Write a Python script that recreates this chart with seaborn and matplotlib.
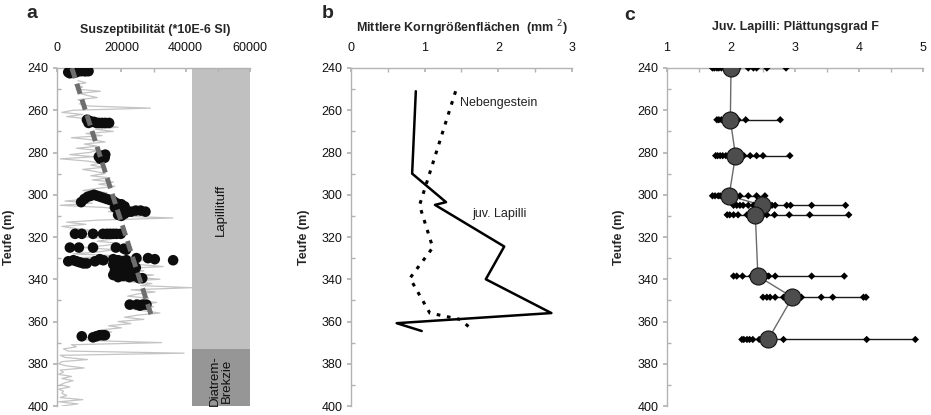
import matplotlib
matplotlib.use("Agg")
import matplotlib.pyplot as plt
import seaborn as sns
import pandas as pd
from matplotlib.ticker import MultipleLocator

# ---------------- data ----------------
# Panel a: susceptibility log (depth in m, value in 10E-6 SI)
sus_log_depth = list(range(246, 403))
sus_log_value = [
    6500, 9000, 5500, 8000, 6000, 13500, 7000, 9500, 12500, 6500,
    8500, 7000, 10000, 29000, 5000, 1500, 8000, 3000, 9500, 11500,
    16000, 13000, 19000, 12000, 17500, 9000, 14000, 4500, 11000, 15000,
    8500, 12500, 6000, 13000, 10000, 4000, 11500, 1000, 9000, 13500,
    10500, 14500, 8000, 12000, 15000, 10500, 16500, 11000, 17500, 13000,
    18000, 12500, 8000, 15500, 12000, 17000, 9500, 2500, 11000, 1000,
    14500, 21000, 16000, 24000, 18000, 36000, 13000, 3000, 9000, 1500,
    6000, 11500, 4000, 14000, 9000, 17000, 12500, 19500, 15000, 8000,
    18000, 13000, 5000, 21000, 3500, 29000, 10000, 25000, 33000, 20000,
    27000, 22000, 30000, 24000, 32000, 21000, 29500, 26000, 42000, 23000,
    30500, 25000, 22000, 28500, 24500, 31000, 26000, 30000, 22500, 27500,
    32000, 25000, 21000, 27000, 19000, 23000, 16000, 20000, 13500, 17000,
    11000, 14000, 7000, 10500, 32500, 4500, 6000, 2000, 3500, 39500,
    1000, 2500, 9500, 1500, 500, 3000, 8500, 1000, 2000, 500,
    4500, 1500, 5000, 2500, 1000, 4000, 500, 2000, 1500, 3000,
    1000, 8000, 500, 6500, 1500, 500, 2500,
]

# Panel a: measured points (black dots)
sus_dot_value = [
    3500, 4000, 4500, 5500, 6000, 6500, 7000, 7500, 8000, 8500, 9000, 9800,
    9300, 9800, 10000, 10800, 11500, 12300, 13000, 14000, 15000, 16200,
    13000, 13500, 14000, 14800, 15000,
    7500, 8500, 9500, 10500, 11500, 12500, 13500, 14500, 15500, 16500, 17500,
    18500, 19000, 20000, 21000, 18000, 19500, 20500, 22000, 23000, 24500,
    26000, 27500, 19000, 20000, 21000,
    5600, 7700, 11200, 14300, 15500, 16500, 17500, 18500, 19800,
    4000, 6800, 11200, 18300, 20800, 21500,
    3500, 5100, 6100, 7100, 8200, 9200, 11800, 13300, 14400, 17500, 19000,
    20600, 21600, 24700, 28300, 30400, 36100,
    17500, 18500, 19500, 20500, 21500, 22500, 23500, 24500, 18000, 19000,
    20500, 21500, 22500, 24000, 23500, 17500, 19000, 20500, 22500, 24000,
    25500, 26500,
    22600, 24800, 25800, 26800, 27800,
    7700, 11200, 12200, 13200, 14200, 14900,
]
sus_dot_depth = [
    242, 242.5, 241.5, 241, 242, 241.5, 241, 241.5, 241, 241.5, 241.5, 241.5,
    264.5, 266, 265, 265.5, 265.5, 266, 266, 266, 266, 266,
    282, 283, 281.5, 282.5, 281,
    303.5, 302, 301, 300.5, 300, 300.5, 301, 301.5, 302, 302.5, 303,
    304, 305, 304.5, 305.5, 306, 307, 306.5, 308, 308, 307.5,
    307.5, 308, 309.5, 310, 309,
    318.5, 318.5, 318.5, 318.5, 318.5, 318.5, 318.5, 318.5, 318.5,
    325, 325, 325, 325, 325.5, 326,
    331.5, 331, 331.5, 332, 332.5, 332.5, 331.5, 330.5, 331, 330.5, 331,
    331.5, 331, 330, 330, 330.5, 331,
    333, 334, 333.5, 334.5, 333.5, 334, 335, 334.5, 336, 337,
    336, 337.5, 336.5, 336.5, 337.5, 338, 339, 338.5, 339, 338.5,
    339.5, 339.5,
    352, 352, 352.5, 352, 352,
    367, 367.5, 367, 366.5, 366.5, 366.5,
]

# Panel a: trend line and lithology column
trend_value = [4600, 29500]
trend_depth = [240, 358]
unit_names = ["Lapillituff", "Diatrem-\nBrekzie"]
unit_top = [240, 373]
unit_bottom = [373, 400]
unit_colors = ["#c0c0c0", "#969696"]
column_x = [42000, 60000]

# Panel b: mean grain-size areas (mm^2)
lap_area = [0.88, 0.83, 1.29, 1.14, 2.08, 1.83, 2.72, 0.62, 0.96]
lap_depth = [251, 290, 303.5, 304.8, 324.5, 340, 356, 360.8, 364.5]
neb_area = [1.42, 0.93, 1.11, 0.80, 1.07, 1.48, 1.60]
neb_depth = [251, 305, 325, 339.5, 356, 359, 362.5]

# Panel c: flattening degree F of juvenile lapilli
row_depths = [240, 264.5, 281.5, 300.5, 305, 309.5, 338.5, 348.5, 368.5]
row_means = [2.00, 1.99, 2.07, 1.97, 2.49, 2.38, 2.42, 2.96, 2.58]
f_240 = [1.71, 1.74, 1.78, 1.81, 1.85, 1.91, 1.97, 2.11, 2.27, 2.35, 2.40, 2.56, 2.86]
f_264 = [1.78, 1.81, 1.85, 1.89, 1.93, 2.11, 2.23, 2.77]
f_281 = [1.76, 1.79, 1.83, 1.87, 1.92, 1.96, 2.09, 2.20, 2.30, 2.40, 2.50, 2.92]
f_300 = [1.71, 1.75, 1.80, 1.83, 1.88, 1.93, 2.01, 2.14, 2.27, 2.40, 2.53]
f_305 = [2.04, 2.09, 2.14, 2.19, 2.27, 2.35, 2.44, 2.64, 2.69, 2.87, 2.93, 3.26, 3.79]
f_310 = [1.94, 1.98, 2.04, 2.11, 2.25, 2.50, 2.56, 2.68, 2.91, 3.23, 3.84]
f_339 = [2.04, 2.09, 2.18, 2.32, 2.50, 2.56, 2.59, 2.69, 3.26, 3.77]
f_349 = [2.50, 2.56, 2.61, 2.69, 2.82, 2.87, 3.10, 3.41, 3.59, 4.07, 4.11]
f_368 = [2.17, 2.20, 2.25, 2.29, 2.34, 2.44, 2.82, 4.12, 4.88]
f_rows = [f_240, f_264, f_281, f_300, f_305, f_310, f_339, f_349, f_368]

depth_ticks = list(range(240, 401, 20))

# ---------------- figure ----------------
sns.set_theme(style="white")
plt.rcParams['font.family'] = ['Liberation Sans', 'DejaVu Sans']
W, H = 931, 415
fig = plt.figure(figsize=(W / 100, H / 100), dpi=100)
SPINE = "#b3b3b3"


def ax_at(l, r, t=68, b=406):
    return fig.add_axes([l / W, 1 - b / H, (r - l) / W, (b - t) / H])


def style(ax, xlim, xticks, xminor, ylab_x):
    ax.set_xlim(*xlim)
    ax.set_ylim(400, 240)
    ax.xaxis.tick_top()
    ax.set_xticks(xticks)
    ax.xaxis.set_minor_locator(MultipleLocator(xminor))
    ax.set_yticks(depth_ticks)
    ax.yaxis.set_minor_locator(MultipleLocator(10))
    for s in ["right", "bottom"]:
        ax.spines[s].set_visible(False)
    for s in ["left", "top"]:
        ax.spines[s].set_color(SPINE)
        ax.spines[s].set_linewidth(1)
    ax.tick_params(axis="x", which="both", direction="in", length=3,
                   color=SPINE, labelsize=9, pad=10, top=True, bottom=False,
                   labelcolor="#111111")
    ax.tick_params(axis="y", which="major", direction="out", length=3,
                   color=SPINE, labelsize=9, pad=3, left=True,
                   labelcolor="#111111")
    ax.tick_params(axis="y", which="minor", direction="in", length=3,
                   color=SPINE, left=True)
    ax.set_xlabel("")
    ax.set_ylabel("Teufe (m)", fontsize=9, fontweight="bold")
    ax.yaxis.set_label_coords(ylab_x, 0.5)
    ax.grid(False)


# ---- panel a ----
axa = ax_at(57, 250)
for name, t, b, c in zip(unit_names, unit_top, unit_bottom, unit_colors):
    axa.fill_betweenx([t, b], column_x[0], column_x[1], color=c, lw=0, zorder=0)
axa.text(sum(column_x) / 2, 307, unit_names[0], rotation=90, ha="center",
         va="center", fontsize=9.5, color="#111111")
axa.text(sum(column_x) / 2, 388, unit_names[1], rotation=90, ha="center",
         va="center", fontsize=9.5, color="#111111", linespacing=1.0)
sns.lineplot(x=sus_log_value, y=sus_log_depth, sort=False, estimator=None,
             color="#c4c4c4", lw=0.9, ax=axa, zorder=1)
sns.scatterplot(x=sus_dot_value, y=sus_dot_depth, color="#0d0d0d", s=58,
                edgecolor="none", ax=axa, zorder=3)
sns.lineplot(x=trend_value, y=trend_depth, sort=False, estimator=None,
             color="#6e6e6e", lw=3.5, ax=axa, zorder=4, dashes=False)
axa.lines[-1].set_linestyle((0, (2.2, 1.2)))
style(axa, (0, 60000), [0, 20000, 40000, 60000], 10000, -0.218)

# ---- panel b ----
axb = ax_at(351, 572)
sns.lineplot(x=lap_area, y=lap_depth, sort=False, estimator=None,
             color="black", lw=1.8, ax=axb)
sns.lineplot(x=neb_area, y=neb_depth, sort=False, estimator=None,
             color="black", lw=2.2, ax=axb)
axb.lines[-1].set_linestyle((0, (1.2, 2.2)))
axb.text(1.48, 256.5, "Nebengestein", ha="left", va="center", fontsize=9,
         color="#222222")
axb.text(1.65, 309.2, "juv. Lapilli", ha="left", va="center", fontsize=9,
         color="#222222")
style(axb, (0, 3), [0, 1, 2, 3], 0.5, -0.186)

# ---- panel c ----
axc = ax_at(667, 923)
for d, vals in zip(row_depths, f_rows):
    sns.lineplot(x=[min(vals), max(vals)], y=[d, d], sort=False,
                 estimator=None, color="#1a1a1a", lw=1.0, ax=axc, zorder=1)
sns.lineplot(x=row_means, y=row_depths, sort=False, estimator=None,
             color="#6a6a6a", lw=1.0, ax=axc, zorder=2)
dots = pd.DataFrame({
    "F": [v for vals in f_rows for v in vals],
    "depth": [d for d, vals in zip(row_depths, f_rows) for _ in vals],
})
sns.scatterplot(data=dots, x="F", y="depth", marker="D", s=14,
                color="black", edgecolor="none", ax=axc, zorder=3)
sns.scatterplot(x=row_means, y=row_depths, s=150, color="#4d4d4d",
                edgecolor="#111111", linewidth=0.8, ax=axc, zorder=4)
style(axc, (1, 5), [1, 2, 3, 4, 5], 0.5, -0.164)

# ---- titles and panel letters ----
fig.text(155 / W, 1 - 30 / H, "Suszeptibilität (*10E-6 SI)", ha="center",
         va="center", fontsize=9, fontweight="bold")
fig.text(462 / W, 1 - 28 / H, "Mittlere Korngrößenflächen  (mm $^{2}$)",
         ha="center", va="center", fontsize=9, fontweight="bold")
fig.text(795 / W, 1 - 27 / H, "Juv. Lapilli: Plättungsgrad F", ha="center",
         va="center", fontsize=9, fontweight="bold")
for letter, x, y in [("a", 32, 14), ("b", 328, 14), ("c", 630, 16)]:
    fig.text(x / W, 1 - y / H, letter, ha="center", va="center",
             fontsize=14, fontweight="bold")

fig.savefig("out.png", dpi=100)
